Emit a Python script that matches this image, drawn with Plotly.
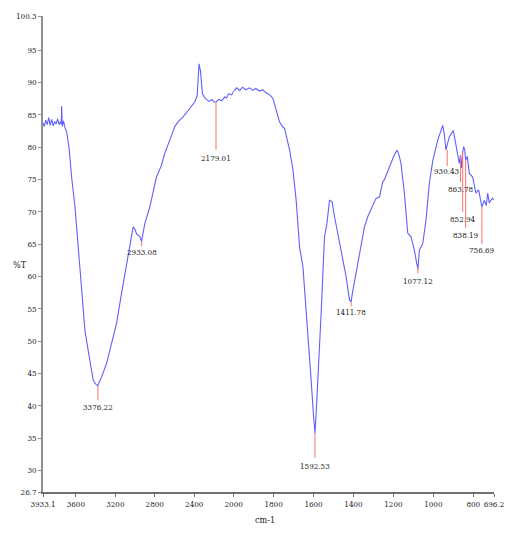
import plotly.graph_objects as go

# ---- spectrum data (wavenumber cm-1, %T) ----
wn_hi = [3933.1, 3920, 3905, 3890, 3875, 3860, 3845, 3830, 3815, 3800, 3785, 3770, 3755, 3748, 3744,
         3738, 3725, 3710, 3693, 3667, 3643, 3609, 3576, 3541, 3508, 3464, 3424, 3400, 3390, 3378,
         3365, 3339, 3288, 3238, 3187, 3137, 3093, 3053, 3019, 3000, 2985, 2969, 2950, 2934, 2920,
         2901, 2850, 2783, 2732, 2700, 2648, 2597, 2560, 2513, 2445, 2395, 2370, 2360, 2351, 2345,
         2337, 2317, 2300, 2276, 2250, 2220, 2200, 2179, 2150, 2120, 2090, 2074, 2050, 2020, 2000]
t_hi = [83.8, 83.2, 84.2, 83.5, 84.6, 83.4, 84.3, 83.3, 84.0, 83.6, 84.4, 83.5, 84.0, 83.6, 86.4,
        83.2, 84.1, 83.0, 82.4, 79.6, 75.4, 70.8, 64.6, 57.9, 51.7, 47.6, 44.0, 43.4, 43.2, 43.1,
        43.6, 44.5, 46.6, 49.7, 52.8, 57.4, 61.5, 64.6, 67.7, 67.3, 66.6, 66.4, 66.2, 65.4, 66.6,
        68.2, 70.8, 75.4, 77.2, 79.0, 81.1, 83.2, 84.0, 84.7, 86.0, 87.0, 88.0, 91.0, 92.9, 92.4,
        91.9, 88.3, 87.8, 87.4, 87.1, 87.4, 87.0, 87.0, 87.4, 87.2, 87.8, 87.6, 88.3, 88.1, 88.7]

wn_lo = [2000, 1985, 1970, 1955, 1940, 1920, 1905, 1890, 1870, 1855, 1840, 1828, 1815, 1803, 1787,
         1770, 1755, 1745, 1720, 1703, 1687, 1670, 1653, 1628, 1612, 1600, 1592.5, 1585, 1578, 1562,
         1545, 1533, 1520, 1507, 1495, 1470, 1453, 1437, 1420, 1411.8, 1405, 1395, 1378, 1370, 1345,
         1328, 1303, 1287, 1270, 1253, 1245, 1220, 1200, 1187, 1180, 1172, 1162, 1145, 1128, 1112,
         1095, 1083, 1077, 1070, 1053, 1037, 1020, 1003, 978, 953, 945, 937, 930, 920, 900,
         887, 870, 864, 858, 853, 848, 843, 838, 830, 820, 803, 787, 773, 762, 757,
         745, 735, 728, 720, 712, 703, 696.2]
t_lo = [88.7, 89.2, 88.8, 89.3, 88.9, 89.2, 88.8, 89.1, 88.7, 88.9, 88.5, 88.3, 88.0, 87.5, 85.7,
        83.9, 83.2, 82.9, 79.6, 76.5, 71.8, 64.6, 61.5, 51.7, 44.0, 38.5, 35.8, 40.0, 44.0, 54.3,
        66.2, 68.2, 71.8, 71.6, 69.3, 65.1, 62.6, 60.0, 56.4, 56.1, 57.5, 59.2, 61.5, 63.1, 67.7,
        69.3, 71.1, 72.1, 72.3, 74.7, 75.0, 77.0, 78.5, 79.3, 79.5, 78.8, 77.5, 72.9, 66.7, 66.2,
        64.1, 62.0, 61.2, 64.1, 65.1, 68.7, 74.4, 77.9, 81.1, 83.4, 82.0, 79.6, 80.5, 81.6, 82.6,
        80.6, 77.5, 78.8, 76.8, 79.3, 80.1, 79.6, 78.0, 78.6, 76.0, 75.4, 72.9, 73.4, 71.1, 70.8,
        71.8, 71.0, 72.9, 71.4, 71.8, 72.1, 71.9]

# ---- peak labels ----
peak_wn = [3376.22, 2933.08, 2179.01, 1592.53, 1411.78, 1077.12, 930.43, 863.78, 852.94, 838.19, 756.69]
peak_top = [43.1, 65.4, 87.0, 35.8, 56.1, 61.5, 79.6, 78.8, 79.3, 78.0, 70.8]
peak_bottom = [40.9, 64.7, 79.6, 32.0, 55.4, 60.5, 77.1, 74.6, 70.0, 67.5, 65.0]
peak_label_t = [39.7, 63.8, 78.3, 30.7, 54.4, 59.2, 76.2, 73.5, 68.9, 66.3, 64.0]
peak_text = ["3376.22", "2933.08", "2179.01", "1592.53", "1411.78", "1077.12",
             "930.43", "863.78", "852.94", "838.19", "756.69"]

# ---- axis ticks ----
x_hi_ticks = [3933.1, 3600, 3200, 2800, 2400, 2000]
x_lo_ticks = [1800, 1600, 1400, 1200, 1000, 800, 696.2]
y_ticks = [26.7, 30, 35, 40, 45, 50, 55, 60, 65, 70, 75, 80, 85, 90, 95, 100.3]

FONT = "DejaVu Serif Condensed, Liberation Serif, serif"
LINE_C = "#6060ff"
RED = "#ff7070"

fig = go.Figure()
fig.add_trace(go.Scatter(x=wn_hi, y=t_hi, mode="lines", line=dict(color=LINE_C, width=1.1),
                         xaxis="x", yaxis="y", showlegend=False, hoverinfo="skip"))
fig.add_trace(go.Scatter(x=wn_lo, y=t_lo, mode="lines", line=dict(color=LINE_C, width=1.1),
                         xaxis="x2", yaxis="y", showlegend=False, hoverinfo="skip"))

annotations = []
for w, top, bot, lt, txt in zip(peak_wn, peak_top, peak_bottom, peak_label_t, peak_text):
    ax = "x" if w > 2000 else "x2"
    fig.add_trace(go.Scatter(x=[w, w], y=[top, bot], mode="lines", line=dict(color=RED, width=1),
                             xaxis=ax, yaxis="y", showlegend=False, hoverinfo="skip"))
    annotations.append(dict(x=w, y=lt, xref=ax, yref="y", text=txt, showarrow=False,
                            font=dict(family=FONT, size=8, color="#222222"),
                            xanchor="center", yanchor="middle"))

annotations.append(dict(x=-0.07, y=0.477, xref="paper", yref="paper", text="%T", showarrow=False,
                        font=dict(family=FONT, size=9, color="#222222")))
annotations.append(dict(x=0.492, y=-0.074, xref="paper", yref="paper", text="cm-1", showarrow=False,
                        font=dict(family=FONT, size=9, color="#222222")))

d = 191.0 / 451.8
common_x = dict(showgrid=False, zeroline=False, showline=True, linecolor="#707070", linewidth=2,
                ticks="outside", ticklen=3, tickcolor="#707070", tickwidth=1, tickangle=0,
                automargin=False,
                tickfont=dict(family=FONT, size=8, color="#222222"), anchor="y")

fig.update_layout(
    width=506, height=534,
    margin=dict(l=43, r=12, t=16, b=42),
    paper_bgcolor="white", plot_bgcolor="white",
    xaxis=dict(domain=[0, d], range=[3933.1, 2000], tickvals=x_hi_ticks,
               ticktext=[str(v) for v in x_hi_ticks], **common_x),
    xaxis2=dict(domain=[d, 1], range=[2000, 696.2], tickvals=x_lo_ticks,
                ticktext=[str(v) for v in x_lo_ticks], **common_x),
    yaxis=dict(range=[26.7, 100.3], tickvals=y_ticks, ticktext=[str(v) for v in y_ticks],
               showgrid=False, zeroline=False, showline=True, linecolor="#909090", linewidth=1.5,
               ticks="outside", ticklen=3, tickcolor="#909090", automargin=False,
               tickfont=dict(family=FONT, size=8, color="#222222")),
    annotations=annotations,
)

fig.write_html("out.html")
